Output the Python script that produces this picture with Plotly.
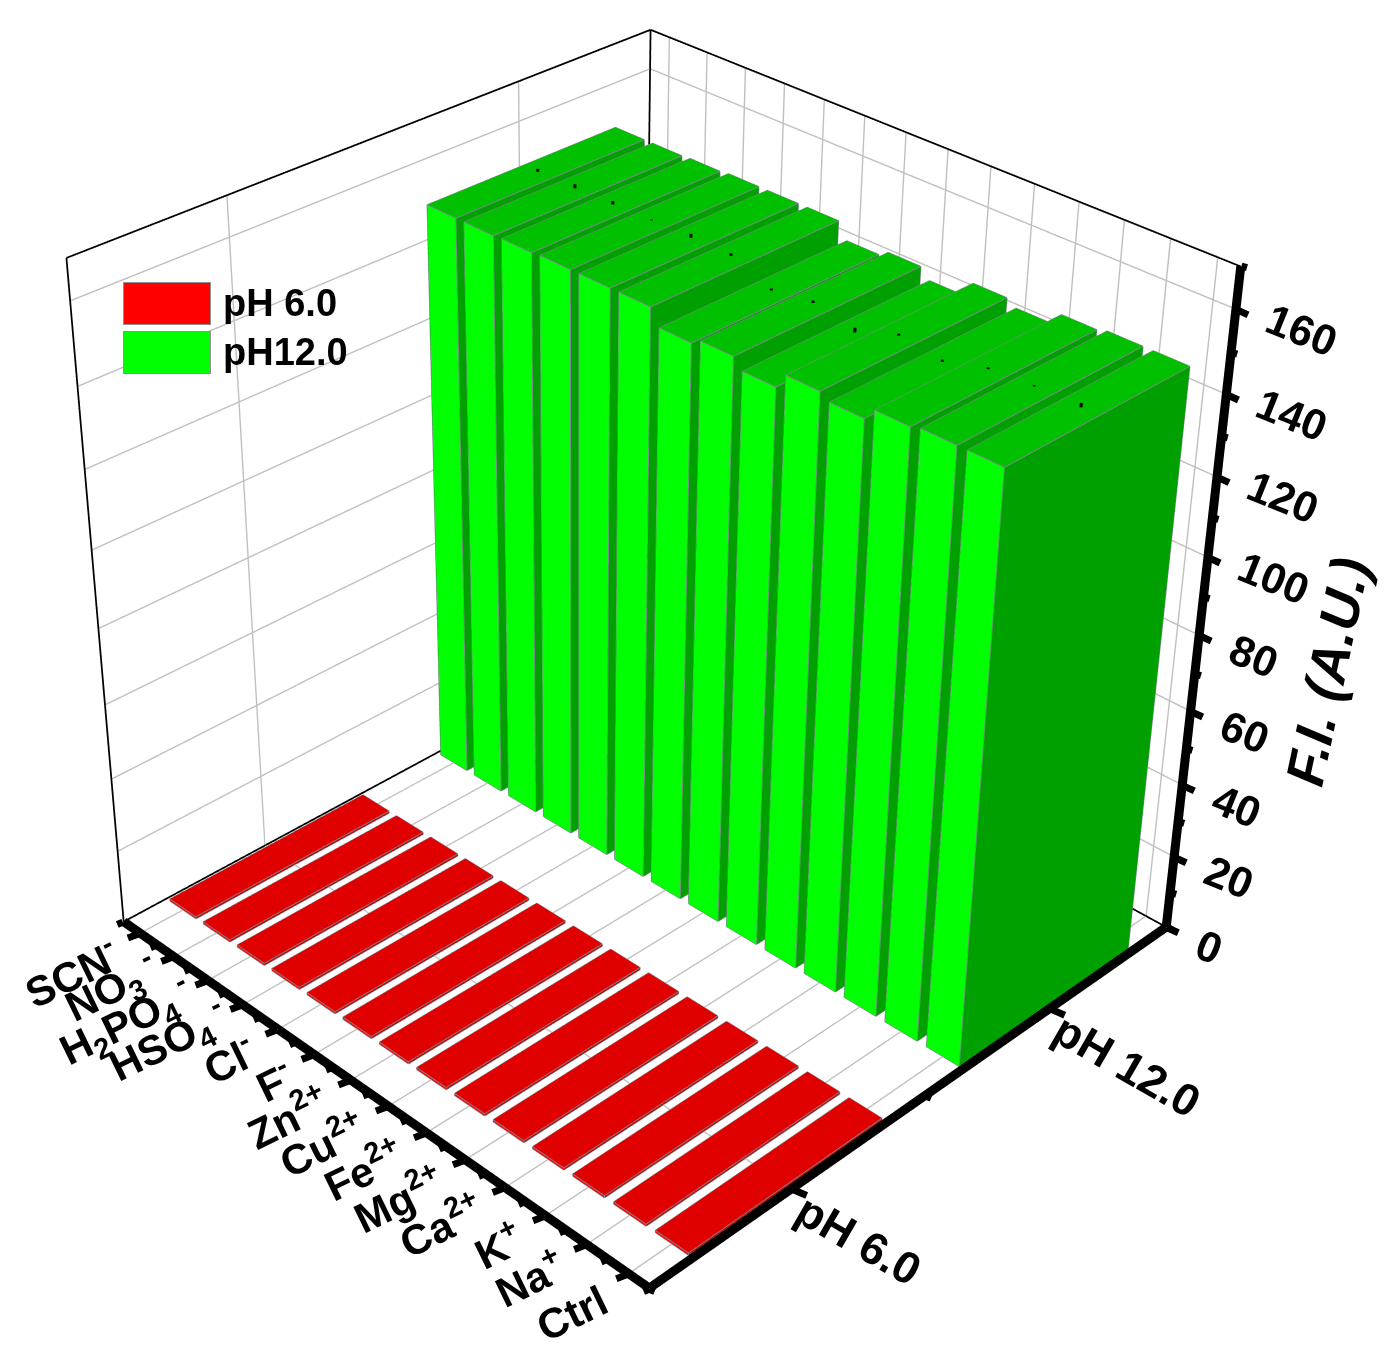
import plotly.graph_objects as go

categories = ["SCN<sup>-</sup>", "NO<sub>3</sub><sup> -</sup>", "H<sub>2</sub>PO<sub>4</sub><sup> -</sup>",
              "HSO<sub>4</sub><sup> -</sup>", "Cl<sup>-</sup>", "F<sup>-</sup>", "Zn<sup>2+</sup>", "Cu<sup>2+</sup>",
              "Fe<sup>2+</sup>", "Mg<sup>2+</sup>", "Ca<sup>2+</sup>", "K<sup>+</sup>", "Na<sup>+</sup>", "Ctrl"]
ph6_values = [0.6] * 14
ph12_values = [149.5, 149.5, 149.7, 150, 150, 150, 146, 147.5, 145, 148.8, 147.3, 150.3, 151, 151]
ph12_errors = [0.7, 1.0, 0.8, 0.2, 1.0, 0.6, 0.5, 0.6, 1.1, 0.5, 0.5, 0.4, 0.3, 1.0]
ph_labels = ["pH 6.0", "pH 12.0"]
z_ticks = [0, 20, 40, 60, 80, 100, 120, 140, 160]
z_minor = [10, 30, 50, 70, 90, 110, 130, 150, 170]

XR = [0.5, 14.5]; YR = [0.5, 2.5]; ZR = [0, 170]
BW = 0.39; BD = 0.35
W, H, OX, OY = 1484, 2916, 92, 845
FONT = "Liberation Sans"
EPS = 1e-3


def boxes(ys, values, cols):
    vx, vy, vz, I, J, K, fc = [], [], [], [], [], [], []
    ex, ey, ez = [], [], []
    for n, (yc, v) in enumerate(zip([ys] * len(values), values)):
        xc = n + 1
        b = len(vx)
        for z in (0.02, v):
            for (px, py) in ((xc - BW, yc - BD), (xc + BW, yc - BD), (xc + BW, yc + BD), (xc - BW, yc + BD)):
                vx.append(px); vy.append(py); vz.append(z)
        faces = [((0, 1, 5), 0), ((0, 5, 4), 0), ((1, 2, 6), 1), ((1, 6, 5), 1), ((4, 5, 6), 2), ((4, 6, 7), 2),
                 ((2, 3, 7), 1), ((2, 7, 6), 1), ((3, 0, 4), 1), ((3, 4, 7), 1), ((0, 1, 2), 1), ((0, 2, 3), 1)]
        for (a, c, d), col in faces:
            I.append(b + a); J.append(b + c); K.append(b + d); fc.append(cols[col])
        for a, c in ((0, 1), (1, 2), (2, 3), (3, 0), (4, 5), (5, 6), (6, 7), (7, 4), (0, 4), (1, 5), (2, 6), (3, 7)):
            ex += [vx[b + a], vx[b + c], None]
            ey += [vy[b + a], vy[b + c], None]
            ez += [vz[b + a], vz[b + c], None]
    mesh = go.Mesh3d(x=vx, y=vy, z=vz, i=I, j=J, k=K, facecolor=fc, flatshading=True, hoverinfo="skip",
                     lighting=dict(ambient=1, diffuse=0, specular=0, fresnel=0, roughness=1))
    edges = go.Scatter3d(x=ex, y=ey, z=ez, mode="lines", line=dict(color="#808890", width=2), hoverinfo="skip",
                         showlegend=False)
    return mesh, edges


fig = go.Figure()
for tr in boxes(1, ph6_values, ["#FF0000", "#C00000", "#E00000"]):
    fig.add_trace(tr)
for tr in boxes(2, ph12_values, ["#00FF00", "#00A000", "#00C000"]):
    fig.add_trace(tr)

# error bars
ex, ey, ez = [], [], []
for n, (v, e) in enumerate(zip(ph12_values, ph12_errors)):
    ex += [n + 1, n + 1, None]; ey += [2, 2, None]; ez += [v - e, v + e, None]
fig.add_trace(go.Scatter3d(x=ex, y=ey, z=ez, mode="lines", line=dict(color="black", width=6), hoverinfo="skip",
                           showlegend=False))


def seg(a, b, width):
    fig.add_trace(go.Scatter3d(x=[a[0], b[0]], y=[a[1], b[1]], z=[a[2], b[2]], mode="lines", hoverinfo="skip",
                               line=dict(color="black", width=width), showlegend=False))


x0, x1 = XR; y0, y1 = YR; z0, z1 = ZR
# box lines sit a hair inside the ranges, because lines on the clip boundary break up
ix0, ix1, iy0, iy1, iz0, iz1 = x0 + 0.01, x1 - 0.01, y0 + 0.002, y1 - 0.002, z0 + 0.1, z1 - 0.1
for a, b in [((ix0, iy0, iz1), (ix0, iy1, iz1)), ((ix0, iy1, iz1), (ix1, iy1, iz1)),
             ((ix0, iy0, iz0), (ix0, iy0, iz1)), ((ix0, iy1, iz0), (ix0, iy1, iz1)),
             ((ix0, iy0, iz0), (ix0, iy1, iz0)), ((ix0, iy1, iz0), (ix1, iy1, iz0))]:
    seg(a, b, 3.5)
for a, b in [((ix0, iy0, iz0), (ix1, iy0, iz0)), ((ix1, iy0, iz0), (ix1, iy1, iz0)), ((ix1, iy1, iz0), (ix1, iy1, iz1))]:
    seg(a, b, 18)

anns = []
xe = x1 - EPS; ye = y1 - EPS; ze = z1 - EPS


def tick(x, y, z, ax, ay, w=7):
    anns.append(dict(x=x, y=y, z=z, text=" ", font=dict(size=1), showarrow=True, arrowhead=0, arrowcolor="black",
                     arrowwidth=w, ax=ax, ay=ay, standoff=0))


def label(x, y, z, text, size, xanchor, yanchor, xs, ys, angle):
    anns.append(dict(x=x, y=y, z=z, text="<b>%s</b>" % text, showarrow=False, textangle=angle,
                     font=dict(family=FONT, size=size, color="black"), xanchor=xanchor, yanchor=yanchor,
                     xshift=xs, yshift=-ys))


for n, c in enumerate(categories):
    tick(n + 1, y0, z0, -13, 5)
    tick(n + 0.5, y0, z0, -7, 3)
    has_sub = "<sub>" in c
    nudge = -20 if has_sub else (-10 if "<sup>" in c else 0)
    label(n + 1, y0, z0, c, 42, "right", "top", -2 if has_sub else -10, nudge, -26)
tick(xe, y0, z0, -7, 3)
for n, t in enumerate(ph_labels):
    tick(xe, n + 1, z0, 16, 7)
    label(xe, n + 1, z0, t, 45, "left", "top", -8, -8, 30)
for v in (0.5, 1.5, 2.5 - EPS):
    tick(xe, v, z0, 7, 3)
for v in z_ticks:
    tick(xe, ye, v, 13, 6)
    label(xe, ye, v, str(v), 43, "left", "middle", 20, 20, 22)
for v in z_minor:
    tick(xe, ye, min(v, ze), 7, 2)


def px(p):
    return (p + OX) / W


def py(p):
    return 1 - (p + OY) / H


layout_anns = []
for top, col, txt in ((282, "#FF0000", "pH 6.0"), (331, "#00FF00", "pH12.0")):
    layout_anns.append(dict(x=px(123), y=py(top), xref="paper", yref="paper", xanchor="left", yanchor="top",
                            text=" ", showarrow=False, width=86, height=41, bgcolor=col, bordercolor="#909090",
                            borderwidth=1, borderpad=0, font=dict(size=1)))
    layout_anns.append(dict(x=px(221), y=py(top + 21), xref="paper", yref="paper", xanchor="left", yanchor="middle",
                            text="<b>%s</b>" % txt, showarrow=False, font=dict(family=FONT, size=38, color="black")))
layout_anns.append(dict(x=px(1327), y=py(672), xref="paper", yref="paper", xanchor="center", yanchor="middle",
                        text="<b><i>F.I. (A.U.)</i></b>", showarrow=False, textangle=-78,
                        font=dict(family=FONT, size=54, color="black")))

axis_common = dict(showgrid=True, gridcolor="#c0c0c0", gridwidth=3, zeroline=False, showline=False,
                   showticklabels=False, ticks="", title="", showbackground=False, showspikes=False,
                   autorange=False)
fig.update_layout(
    width=W, height=H, margin=dict(l=0, r=0, t=0, b=0), paper_bgcolor="white", showlegend=False,
    annotations=layout_anns,
    scene=dict(
        domain=dict(x=[0, 1], y=[0, 1]), aspectmode="manual", aspectratio=dict(x=1, y=1, z=1), dragmode=False,
        bgcolor="white", annotations=anns,
        camera=dict(eye=dict(x=2.649, y=-2.723, z=2.41), center=dict(x=0, y=0, z=0), up=dict(x=-0.008, y=-0.008, z=1)),
        xaxis=dict(range=XR, tickvals=list(range(1, 15)), **axis_common),
        yaxis=dict(range=YR, tickvals=[1, 2], **axis_common),
        zaxis=dict(range=ZR, tickvals=z_ticks, **axis_common),
    ),
)
post = ("document.documentElement.style.overflow='hidden';document.body.style.overflow='hidden';"
        "document.body.style.margin='0';var g=document.getElementById('{plot_id}');"
        "g.style.marginLeft='-%dpx';g.style.marginTop='-%dpx';" % (OX, OY))
fig.write_html("out.html", config=dict(displayModeBar=False), post_script=post)
